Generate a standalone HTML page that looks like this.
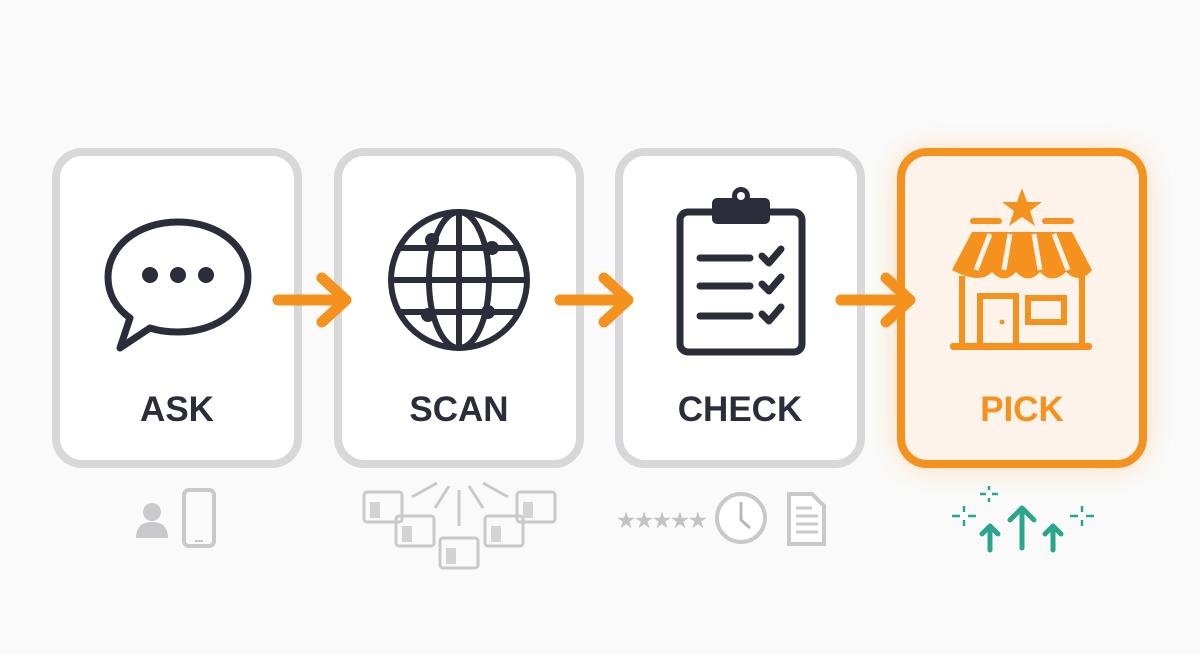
<!DOCTYPE html>
<html><head><meta charset="utf-8"><style>
html,body{margin:0;padding:0;background:#fafafa;width:1200px;height:655px;overflow:hidden}
svg{display:block}
text{font-family:"Liberation Sans",sans-serif;font-weight:bold}
</style></head><body>
<svg width="1200" height="655" viewBox="0 0 1200 655" xmlns="http://www.w3.org/2000/svg">
<defs>
<filter id="glow" x="-30%" y="-30%" width="160%" height="160%"><feGaussianBlur stdDeviation="14"/></filter>
</defs>
<rect width="1200" height="655" fill="#fafafa"/>
<!-- glow -->
<rect x="897" y="150" width="250" height="318" rx="30" fill="#fbd3a6" filter="url(#glow)" opacity="0.8"/>
<!-- boxes -->
<g fill="#fff" stroke="#d8d8da" stroke-width="8">
<rect x="56" y="152" width="242" height="312" rx="26"/>
<rect x="338" y="152" width="242" height="312" rx="26"/>
<rect x="619" y="152" width="242" height="312" rx="26"/>
</g>
<rect x="901" y="152" width="242" height="312" rx="26" fill="#fdf3ea" stroke="#f5921e" stroke-width="8"/>
<!-- labels -->
<g font-size="35" text-anchor="middle" fill="#2b2e3a">
<text x="177" y="421">ASK</text>
<text x="459" y="421">SCAN</text>
<text x="740" y="421">CHECK</text>
<text x="1022" y="421" fill="#f5921e">PICK</text>
</g>
<!-- arrows -->
<g stroke="#f5921e" stroke-width="11" fill="none" stroke-linecap="round" stroke-linejoin="round">
<path d="M278 300H345M322 278L346 300L322 322"/>
<path d="M560 300H627M604 278L628 300L604 322"/>
<path d="M841 300H908M886 278L910 300L886 322"/>
</g>
<!-- ASK icon -->
<g stroke="#2b2e3a" stroke-width="7" fill="none" stroke-linejoin="round">
<path d="M178 222c-40 0-70 24-70 55 0 17 8 31 22 41l-10 30 30-20c9 3 18 4 28 4 40 0 70-24 70-55s-30-55-70-55z"/>
</g>
<g fill="#2b2e3a"><circle cx="150" cy="275" r="8"/><circle cx="178" cy="275" r="8"/><circle cx="206" cy="275" r="8"/></g>
<!-- SCAN globe -->
<g stroke="#2b2e3a" stroke-width="6" fill="none">
<circle cx="459" cy="280" r="68"/>
<ellipse cx="459" cy="280" rx="30" ry="68"/>
<path d="M459 212V348M391 280H527M400 248H518M400 312H518"/>
</g>
<g fill="#2b2e3a"><circle cx="432" cy="240" r="7"/><circle cx="492" cy="248" r="7"/><circle cx="428" cy="315" r="7"/><circle cx="488" cy="312" r="7"/></g>
<!-- CHECK clipboard -->
<g stroke="#2b2e3a" stroke-width="7" fill="none" stroke-linecap="round" stroke-linejoin="round">
<rect x="680" y="212" width="122" height="140" rx="8"/>
<path d="M700 258H750M700 286H750M700 316H750"/>
<path d="M762 256l7 7 12-14M762 284l7 7 12-14M762 314l7 7 12-14"/>
</g>
<rect x="712" y="198" width="58" height="26" rx="5" fill="#2b2e3a"/>
<circle cx="741" cy="196" r="9" fill="#2b2e3a"/><circle cx="741" cy="196" r="4" fill="#fff"/>
<!-- PICK shop -->
<g fill="#f5921e">
<polygon points="1022,188 1027,202 1042,202 1030,211 1035,226 1022,217 1009,226 1014,211 1002,202 1017,202"/>
<rect x="970" y="218" width="32" height="6" rx="3"/><rect x="1042" y="218" width="32" height="6" rx="3"/>
<path d="M972 232H1072L1092 270Q1080 285 1066 272Q1052 285 1040 272Q1028 285 1016 272Q1004 285 992 272Q980 285 952 270Z"/>
<rect x="950" y="343" width="142" height="7" rx="3"/>
</g>
<g stroke="#fdf3ea" stroke-width="5"><path d="M990 234L976 270M1010 234L1004 270M1034 234L1040 270M1054 234L1068 270"/></g>
<g stroke="#f5921e" stroke-width="6" fill="none">
<path d="M962 276V345M1082 276V345"/>
<rect x="980" y="296" width="36" height="50"/><rect x="1028" y="298" width="36" height="24"/>
</g>
<circle cx="1002" cy="322" r="2.5" fill="#f5921e"/>
<!-- ASK sub icons -->
<g fill="#c9c9cc"><circle cx="152" cy="512" r="9"/><path d="M136 538q0-16 16-16t16 16z"/></g>
<rect x="184" y="490" width="30" height="56" rx="5" fill="none" stroke="#c9c9cc" stroke-width="4"/>
<rect x="195" y="540" width="8" height="2" fill="#c9c9cc"/>
<!-- SCAN sub -->
<g stroke="#c9c9cc" stroke-width="3" fill="none">
<path d="M412 497l25-14M435 508l14-22M459 526V490M483 508l-14-22M508 497l-25-14"/>
<rect x="364" y="492" width="38" height="30" rx="3"/><rect x="396" y="516" width="38" height="30" rx="3"/>
<rect x="440" y="538" width="38" height="30" rx="3"/><rect x="485" y="516" width="38" height="30" rx="3"/>
<rect x="517" y="492" width="38" height="30" rx="3"/>
</g>
<g fill="#d3d3d5"><rect x="370" y="502" width="10" height="16"/><rect x="402" y="526" width="10" height="16"/><rect x="446" y="548" width="10" height="16"/><rect x="491" y="526" width="10" height="16"/><rect x="523" y="502" width="10" height="16"/></g>
<!-- CHECK sub -->
<text x="662" y="527" font-size="20" fill="#c4c4c6" text-anchor="middle" font-weight="normal">★★★★★</text>
<circle cx="741" cy="518" r="24" fill="#fff" stroke="#c9c9cc" stroke-width="4"/>
<path d="M741 502V520L750 528" stroke="#b8b8bb" stroke-width="3" fill="none"/>
<path d="M789 494H812L824 506V544H789Z" fill="#fff" stroke="#c9c9cc" stroke-width="4"/>
<g stroke="#c9c9cc" stroke-width="3"><path d="M796 508H812M796 516H818M796 524H818M796 532H818"/></g>
<!-- PICK sub -->
<g stroke="#2aa68f" stroke-width="5" fill="none" stroke-linecap="round" stroke-linejoin="round">
<path d="M1022 548V508M1010 520L1022 508L1034 520"/>
<path d="M990 550V526M982 534L990 526L998 534"/>
<path d="M1053 550V526M1045 534L1053 526L1061 534"/>
</g>
<g stroke="#2aa68f" stroke-width="2.5"><path d="M952 516h8M968 516h8M964 506v6M964 520v6M980 494h6M992 494h6M989 486v4M989 498v4M1070 516h8M1086 516h8M1082 506v6M1082 520v6"/></g>
</svg>
</body></html>
